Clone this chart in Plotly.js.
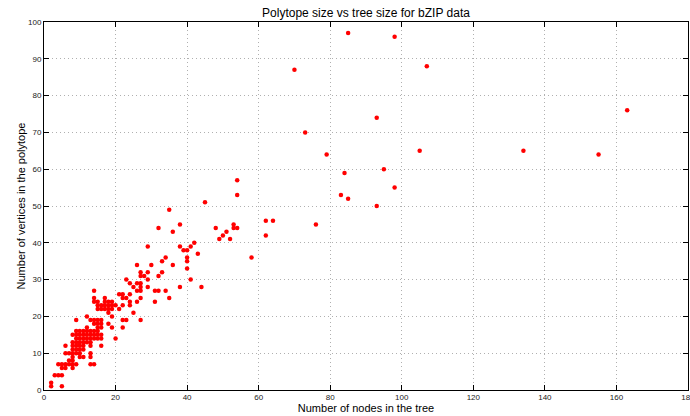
<!DOCTYPE html>
<html>
<head>
<meta charset="utf-8">
<script src="https://cdn.plot.ly/plotly-3.0.1.min.js"></script>
<style>
  html, body { margin: 0; padding: 0; background: #fff; }
  #chart { width: 690px; height: 416px; }
</style>
</head>
<body>
<div id="chart"></div>
<script>
// Number of nodes in each tree (x) and number of vertices of its polytope (y)
const treeNodes = [
  2, 2, 5,
  3, 4, 5,
  5, 6, 8,
  4, 5, 6, 7, 8, 9, 13, 14,
  7, 8,
  8, 10, 11, 13,
  6, 7, 8, 9, 10, 13,
  8, 9, 10, 11,
  6, 8, 9, 10, 11, 13, 16,
  8, 9, 10, 11, 12, 13,
  9, 10, 11, 12, 13, 14, 15, 16, 20,
  8, 9, 10, 11, 12, 13, 14, 15, 16,
  9, 10, 11, 12, 13, 14, 15,
  12, 15, 16, 19, 22,
  14, 15, 16, 18,
  9, 13, 14, 15, 16, 22, 23, 27,
  12, 19,
  18, 25,
  15, 16, 17, 18, 19, 21,
  15, 16, 17, 18, 19, 20, 22, 24,
  14, 15, 17, 18, 19, 24, 26, 31,
  14, 17, 22, 23, 27, 35,
  21, 22, 24,
  14, 26, 27, 31, 32, 34,
  25, 27, 29, 38, 44,
  24, 26, 27,
  23, 29, 41,
  27, 28, 32,
  27, 29, 33,
  40,
  26, 30, 36,
  33, 40,
  34, 40, 58,
  43,
  39, 40,
  29, 38, 41,
  42,
  49, 52,
  50, 62,
  36, 51,
  32, 48, 53, 54,
  38, 53, 76,
  62, 64,
  35,
  45,
  54, 54,
  93, 85, 83, 98, 84, 95, 79, 155, 105, 134, 73, 93, 163, 70, 107, 98, 85
];

const polytopeVertices = [
  1, 2, 1,
  4, 4, 4,
  6, 6, 6,
  7, 7, 7, 7, 7, 7, 7, 7,
  8, 8,
  9, 9, 9, 9,
  10, 10, 10, 10, 10, 10,
  11, 11, 11, 11,
  12, 12, 12, 12, 12, 12, 12,
  13, 13, 13, 13, 13, 13,
  14, 14, 14, 14, 14, 14, 14, 14, 14,
  15, 15, 15, 15, 15, 15, 15, 15, 15,
  16, 16, 16, 16, 16, 16, 16,
  17, 17, 17, 17, 17,
  18, 18, 18, 18,
  19, 19, 19, 19, 19, 19, 19, 19,
  20, 20,
  21, 21,
  22, 22, 22, 22, 22, 22,
  23, 23, 23, 23, 23, 23, 23, 23,
  24, 24, 24, 24, 24, 24, 24, 24,
  25, 25, 25, 25, 25, 25,
  26, 26, 26,
  27, 27, 27, 27, 27, 27,
  28, 28, 28, 28, 28,
  29, 29, 29,
  30, 30, 30,
  31, 31, 31,
  32, 32, 32,
  33,
  34, 34, 34,
  35, 35,
  36, 36, 36,
  37,
  38, 38,
  39, 39, 39,
  40,
  41, 41,
  42, 42,
  43, 43,
  44, 44, 44, 44,
  45, 45, 45,
  46, 46,
  49,
  51,
  53, 57,
  50, 52, 53, 55, 59, 60, 64, 64, 65, 65, 70, 74, 76, 87, 88, 96, 97
];

const xTicks = [0, 20, 40, 60, 80, 100, 120, 140, 160, 180];
const yTicks = [0, 10, 20, 30, 40, 50, 60, 70, 80, 90, 100];

const font = 'Liberation Sans, Arial, Helvetica, sans-serif';

const axisCommon = {
  showline: true,
  linecolor: '#000',
  linewidth: 1,
  mirror: 'ticks',
  ticks: 'inside',
  ticklen: 5,
  tickcolor: '#000',
  tickwidth: 1,
  showgrid: true,
  gridcolor: '#b0b0b0',
  griddash: '1px,3px',
  gridwidth: 1,
  zeroline: false,
  ticklabeloverflow: 'allow',
  tickfont: { family: font, size: 8, color: '#222' },
  tickmode: 'array'
};

const trace = {
  type: 'scatter',
  mode: 'markers',
  x: treeNodes,
  y: polytopeVertices,
  marker: { color: '#ff0000', size: 4.5, line: { width: 0 } },
  cliponaxis: false,
  hoverinfo: 'x+y'
};

const layout = {
  width: 690,
  height: 416,
  margin: { l: 44, r: 2, t: 22, b: 26 },
  paper_bgcolor: '#fff',
  plot_bgcolor: '#fff',
  showlegend: false,
  title: {
    text: 'Polytope size vs tree size for bZIP data',
    font: { family: font, size: 12, color: '#000' },
    x: 0.5, xref: 'paper', xanchor: 'center',
    y: 0.969, yref: 'container', yanchor: 'middle'
  },
  xaxis: Object.assign({}, axisCommon, {
    range: [0, 180],
    tickvals: xTicks,
    ticktext: xTicks.map(String),
    ticklabelstandoff: -1,
    title: { text: 'Number of nodes in the tree', font: { family: font, size: 11, color: '#000' }, standoff: 0 }
  }),
  yaxis: Object.assign({}, axisCommon, {
    range: [0, 100],
    tickvals: yTicks,
    ticktext: yTicks.map(String),
    title: { text: 'Number of vertices in the polytope', font: { family: font, size: 11, color: '#000' }, standoff: 0 }
  })
};

Plotly.newPlot('chart', [trace], layout, { staticPlot: true, displayModeBar: false });
</script>
</body>
</html>
